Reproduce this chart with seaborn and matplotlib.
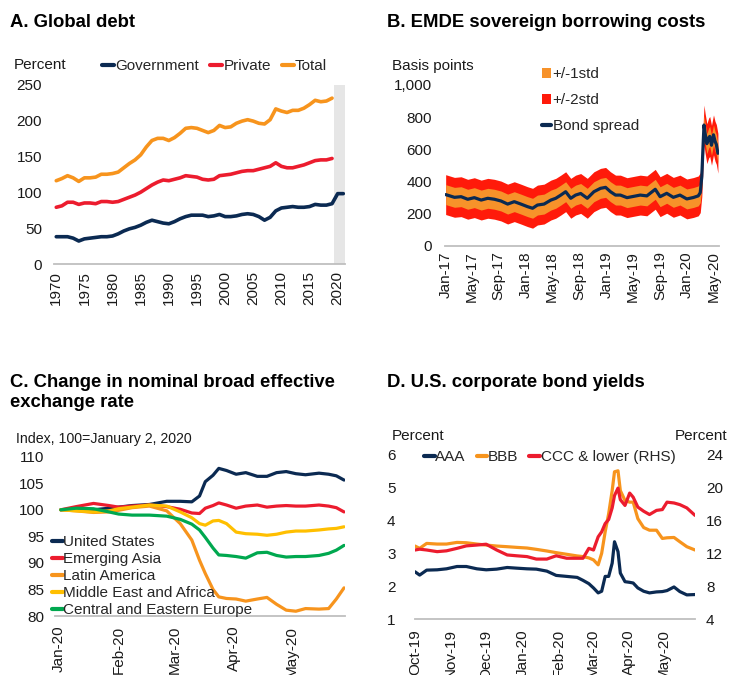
import matplotlib
matplotlib.use("Agg")
import matplotlib.pyplot as plt
import matplotlib.dates as mdates
from matplotlib.lines import Line2D
from matplotlib.patches import Patch
from matplotlib.ticker import FuncFormatter
import numpy as np
import pandas as pd
import seaborn as sns

sns.set_theme(style="white")
plt.rcParams["font.family"] = ["Liberation Sans", "DejaVu Sans"]

# ---------------- Panel A: global debt, percent of GDP ----------------
years_hist = list(range(1970, 2020))
years_gov = list(range(1970, 2022))
gov_debt = [38, 38, 38, 36, 32, 35, 36, 37, 38, 38,
            39, 42, 46, 49, 51, 54, 58, 61, 59, 57,
            56, 59, 63, 66, 68, 68, 68, 66, 67, 69,
            66, 66, 67, 69, 70, 69, 66, 61, 65, 74,
            78, 79, 80, 79, 79, 80, 83, 82, 82, 84,
            98, 98]
private_debt = [79, 81, 86, 86, 83, 85, 85, 84, 87, 87,
                86, 87, 90, 93, 96, 100, 105, 110, 114, 117,
                116, 118, 120, 123, 122, 121, 118, 117, 118, 123,
                124, 125, 127, 129, 130, 130, 132, 134, 136, 141,
                136, 134, 134, 136, 138, 141, 144, 145, 145, 147]
total_debt = [116, 119, 123, 120, 115, 120, 120, 121, 125, 125,
              126, 128, 134, 140, 145, 152, 163, 172, 175, 175,
              172, 176, 182, 189, 190, 189, 186, 183, 186, 193,
              190, 191, 196, 199, 201, 199, 196, 195, 201, 216,
              213, 211, 214, 214, 217, 222, 228, 226, 227, 231]
year_ticks = list(range(1970, 2021, 5))

# ---------------- Panel B: EMDE sovereign bond spread, basis points ----------------
spread_dates = ["2017-01-03", "2017-02-12", "2017-03-14", "2017-04-13", "2017-05-13",
                "2017-06-13", "2017-07-13", "2017-08-12", "2017-09-11", "2017-10-11",
                "2017-11-10", "2017-12-10", "2018-01-09", "2018-02-01", "2018-02-23",
                "2018-03-25", "2018-04-25", "2018-05-17", "2018-06-09", "2018-07-01",
                "2018-07-24", "2018-08-15", "2018-09-07", "2018-10-07", "2018-11-06",
                "2018-12-06", "2018-12-29", "2019-01-20", "2019-02-12", "2019-03-06",
                "2019-04-05", "2019-05-05", "2019-06-04", "2019-07-04", "2019-08-11",
                "2019-09-02", "2019-10-02", "2019-11-01", "2019-12-01", "2020-01-01",
                "2020-01-31", "2020-02-22", "2020-03-02", "2020-03-09", "2020-03-14",
                "2020-03-19", "2020-03-24", "2020-04-01", "2020-04-09", "2020-04-14",
                "2020-04-22", "2020-05-01", "2020-05-08", "2020-05-14", "2020-05-21"]
bond_spread = [318, 301, 305, 289, 299,
               284, 295, 289, 278, 259,
               274, 259, 243, 233, 253,
               259, 284, 295, 315, 336,
               295, 315, 325, 295, 336,
               357, 363, 336, 315, 315,
               299, 307, 315, 310, 351,
               305, 326, 301, 315, 291,
               300, 310, 330, 430, 596,
               751, 700, 635, 670, 680,
               625, 690, 650, 630, 575]
spread_std = 62

# ---------------- Panel C: nominal broad effective exchange rates ----------------
neer_dates = ["2020-01-02", "2020-01-10", "2020-01-19", "2020-01-27", "2020-02-01",
              "2020-02-08", "2020-02-17", "2020-02-26", "2020-03-04", "2020-03-10",
              "2020-03-14", "2020-03-17", "2020-03-21", "2020-03-24", "2020-03-28",
              "2020-04-02", "2020-04-07", "2020-04-13", "2020-04-18", "2020-04-23",
              "2020-04-28", "2020-05-03", "2020-05-08", "2020-05-15", "2020-05-20",
              "2020-05-24", "2020-05-28"]
neer_us = [100.0, 100.0, 100.0, 100.3, 100.5, 100.8, 101.0, 101.6, 101.6, 101.5,
           102.6, 105.3, 106.5, 107.8, 107.4, 106.7, 107.0, 106.3, 106.3, 107.0,
           107.2, 106.8, 106.6, 106.9, 106.7, 106.4, 105.6]
neer_asia = [100.0, 100.6, 101.2, 100.8, 100.5, 100.7, 100.9, 100.6, 100.1, 99.4,
             99.3, 100.3, 100.8, 101.3, 100.9, 100.3, 100.7, 100.9, 100.5, 100.7,
             100.8, 100.7, 100.7, 100.9, 100.7, 100.4, 99.6]
neer_latam = [100.0, 99.8, 99.5, 99.6, 99.9, 100.4, 100.7, 99.8, 97.4, 94.3,
              90.5, 88.0, 85.0, 83.6, 83.3, 83.2, 82.8, 83.2, 83.5, 82.2,
              81.1, 80.9, 81.4, 81.3, 81.4, 83.2, 85.3]
neer_mea = [100.0, 99.8, 99.6, 99.8, 100.2, 100.5, 100.9, 100.7, 99.6, 98.5,
            97.4, 97.1, 97.9, 98.0, 97.4, 95.8, 95.5, 95.4, 95.2, 95.4,
            95.8, 96.0, 96.0, 96.2, 96.4, 96.5, 96.8]
neer_cee = [100.0, 100.3, 100.2, 99.6, 99.2, 99.0, 99.0, 98.8, 98.2, 97.3,
            96.2, 94.8, 92.8, 91.5, 91.4, 91.2, 90.9, 91.9, 92.0, 91.4,
            91.1, 91.2, 91.2, 91.4, 91.8, 92.4, 93.3]

# ---------------- Panel D: U.S. corporate bond yields, percent ----------------
yield_dates = ["2019-10-01", "2019-10-05", "2019-10-11", "2019-10-20", "2019-10-28",
               "2019-11-06", "2019-11-14", "2019-11-23", "2019-12-01", "2019-12-10",
               "2019-12-19", "2019-12-27", "2020-01-05", "2020-01-13", "2020-01-22",
               "2020-01-30", "2020-02-08", "2020-02-17", "2020-02-22", "2020-02-27",
               "2020-03-02", "2020-03-06", "2020-03-09", "2020-03-12", "2020-03-15",
               "2020-03-18", "2020-03-20", "2020-03-23", "2020-03-25", "2020-03-29",
               "2020-04-02", "2020-04-05", "2020-04-09", "2020-04-14", "2020-04-19",
               "2020-04-25", "2020-04-30", "2020-05-04", "2020-05-10", "2020-05-15",
               "2020-05-21", "2020-05-28"]
yield_aaa = [2.44, 2.34, 2.49, 2.50, 2.53, 2.60, 2.60, 2.53, 2.50, 2.52,
             2.57, 2.55, 2.53, 2.52, 2.46, 2.33, 2.30, 2.27, 2.18, 2.08,
             1.95, 1.80, 1.85, 2.30, 2.30, 2.70, 3.35, 3.05, 2.40, 2.14,
             2.12, 2.10, 1.95, 1.85, 1.80, 1.83, 1.84, 1.87, 1.98, 1.84,
             1.74, 1.75]
yield_bbb = [3.22, 3.15, 3.30, 3.28, 3.28, 3.33, 3.32, 3.28, 3.25, 3.22,
             3.20, 3.18, 3.16, 3.12, 3.07, 3.02, 2.97, 2.92, 2.90, 2.86,
             2.80, 2.65, 3.00, 3.65, 4.20, 4.90, 5.47, 5.50, 4.90, 4.60,
             4.55, 4.55, 4.05, 3.78, 3.70, 3.70, 3.45, 3.47, 3.48, 3.35,
             3.20, 3.10]
yield_ccc = [12.4, 12.5, 12.4, 12.2, 12.3, 12.6, 12.9, 13.0, 13.1, 12.4,
             11.8, 11.7, 11.6, 11.3, 11.3, 11.7, 11.4, 11.4, 11.4, 12.6,
             12.4, 14.0, 14.6, 15.6, 16.1, 17.5, 19.0, 19.9, 18.5, 17.8,
             19.3, 18.8, 17.6, 17.1, 16.7, 17.2, 17.3, 18.2, 18.1, 17.9,
             17.5, 16.6]

# ---------------- styling ----------------
NAVY = "#0b2a52"
RED = "#ec1c2e"
ORANGE = "#f7941d"
BAND1 = "#f7922a"
BAND2 = "#ff1a0a"
GOLD = "#ffbf00"
GREEN = "#00a84f"
SPINE = "#bfbfbf"
SHADE = "#e6e6e6"
TEXT = "#1a1a1a"
TICK_FS = 11
TITLE_FS = 13.3
LW = 2.3

W, H = 729, 675
fig = plt.figure(figsize=(W / 100, H / 100), dpi=100)


def box(left, top, right, bottom):
    return [left / W, 1 - bottom / H, (right - left) / W, (bottom - top) / H]


def fig_text(x, y, s, **kw):
    kw.setdefault("fontsize", TICK_FS)
    kw.setdefault("color", TEXT)
    fig.text(x / W, 1 - y / H, s, va="baseline", ha="left", **kw)


def style_axis(ax, xpad, ypad):
    for side in ("top", "right", "left"):
        ax.spines[side].set_visible(False)
    ax.spines["bottom"].set_color(SPINE)
    ax.spines["bottom"].set_linewidth(1.3)
    ax.tick_params(axis="both", length=0, labelsize=TICK_FS, colors=TEXT)
    ax.tick_params(axis="x", pad=xpad, labelrotation=90)
    ax.tick_params(axis="y", pad=ypad)
    ax.set_xlabel("")
    ax.set_ylabel("")
    ax.grid(False)
    leg = ax.get_legend()
    if leg is not None:
        leg.remove()


def place_legend(ax, handles, labels, x, y, loc, **kw):
    ax.legend(handles, labels, loc=loc, bbox_to_anchor=(x / W, 1 - y / H),
              bbox_transform=fig.transFigure, frameon=False, fontsize=TICK_FS,
              borderpad=0, borderaxespad=0, **kw)


# ---- A ----
axA = fig.add_axes(box(54, 84.5, 345, 264))
axA.axvspan(2019.4, 2021.3, color=SHADE, lw=0, zorder=0)
sns.lineplot(x=years_gov, y=gov_debt, ax=axA, color=NAVY, lw=LW + 0.3)
sns.lineplot(x=years_hist, y=private_debt, ax=axA, color=RED, lw=LW + 0.3)
sns.lineplot(x=years_hist, y=total_debt, ax=axA, color=ORANGE, lw=LW + 0.3)
axA.set_xlim(1969.6, 2021.3)
axA.set_ylim(0, 250)
axA.set_xticks(year_ticks)
axA.set_yticks(range(0, 251, 50))
style_axis(axA, xpad=5, ypad=8.5)
fig_text(10, 27, "A. Global debt", fontsize=TITLE_FS, fontweight="bold", color="black")
fig_text(14, 69, "Percent")
place_legend(axA, [Line2D([], [], color=c, lw=3) for c in (NAVY, RED, ORANGE)],
             ["Government", "Private", "Total"], 102, 66.5, "center left",
             ncol=3, handlelength=0.8, handletextpad=0.08, columnspacing=0.7)

# ---- B ----
axB = fig.add_axes(box(445, 85, 719, 245.7))
b_x = pd.to_datetime(spread_dates)
b_y = np.array(bond_spread, dtype=float)
axB.fill_between(b_x, b_y - 2 * spread_std, b_y + 2 * spread_std, color=BAND2, lw=0, zorder=1)
axB.fill_between(b_x, b_y - spread_std, b_y + spread_std, color=BAND1, lw=0, zorder=2)
sns.lineplot(x=b_x, y=b_y, ax=axB, color=NAVY, lw=2.3, zorder=3)
axB.set_xlim(pd.Timestamp("2016-12-31"), pd.Timestamp("2020-05-26"))
axB.set_ylim(0, 1000)
axB.set_yticks(range(0, 1001, 200))
axB.yaxis.set_major_formatter(FuncFormatter(lambda v, p: f"{v:,.0f}"))
axB.xaxis.set_major_locator(mdates.MonthLocator(bymonth=[1, 5, 9]))
axB.xaxis.set_major_formatter(mdates.DateFormatter("%b-%y"))
style_axis(axB, xpad=4, ypad=9.5)
fig_text(387, 27, "B. EMDE sovereign borrowing costs", fontsize=TITLE_FS, fontweight="bold", color="black")
fig_text(392, 70, "Basis points")
place_legend(axB, [Patch(facecolor=BAND1, edgecolor="none"), Patch(facecolor=BAND2, edgecolor="none"),
                   Line2D([], [], color=NAVY, lw=3)],
             ["+/-1std", "+/-2std", "Bond spread"], 542, 67.5, "upper left",
             handlelength=0.6, handleheight=0.6, handletextpad=0.1, labelspacing=0.78)

# ---- C ----
axC = fig.add_axes(box(55, 456.7, 345, 616))
c_x = pd.to_datetime(neer_dates)
c_series = [("United States", neer_us, NAVY), ("Emerging Asia", neer_asia, RED),
            ("Latin America", neer_latam, ORANGE), ("Middle East and Africa", neer_mea, GOLD),
            ("Central and Eastern Europe", neer_cee, GREEN)]
for name, vals, col in c_series:
    sns.lineplot(x=c_x, y=vals, ax=axC, color=col, lw=LW)
axC.set_xlim(pd.Timestamp("2019-12-30"), pd.Timestamp("2020-05-28 12:00"))
axC.set_ylim(80, 110)
axC.set_yticks(range(80, 111, 5))
axC.xaxis.set_major_locator(mdates.MonthLocator())
axC.xaxis.set_major_formatter(mdates.DateFormatter("%b-%y"))
style_axis(axC, xpad=7, ypad=8)
fig_text(10, 387, "C. Change in nominal broad effective", fontsize=TITLE_FS, fontweight="bold", color="black")
fig_text(10, 407, "exchange rate", fontsize=TITLE_FS, fontweight="bold", color="black")
fig_text(16, 443, "Index, 100=January 2, 2020", fontsize=10.2)
place_legend(axC, [Line2D([], [], color=c, lw=3) for _, _, c in c_series],
             [n for n, _, _ in c_series], 52, 535, "upper left",
             handlelength=0.7, handletextpad=0.05, labelspacing=0.2)

# ---- D ----
axD = fig.add_axes(box(415, 454.3, 695, 619.3))
d_x = pd.to_datetime(yield_dates)
sns.lineplot(x=d_x, y=yield_aaa, ax=axD, color=NAVY, lw=LW)
sns.lineplot(x=d_x, y=yield_bbb, ax=axD, color=ORANGE, lw=LW)
axD2 = axD.twinx()
sns.lineplot(x=d_x, y=yield_ccc, ax=axD2, color=RED, lw=LW)
axD.set_xlim(pd.Timestamp("2019-10-01"), pd.Timestamp("2020-05-28"))
axD.set_ylim(1, 6)
axD2.set_ylim(4, 24)
axD.set_yticks(range(1, 7))
axD2.set_yticks(range(4, 25, 4))
axD.xaxis.set_major_locator(mdates.MonthLocator())
axD.xaxis.set_major_formatter(mdates.DateFormatter("%b-%y"))
style_axis(axD, xpad=7, ypad=14)
style_axis(axD2, xpad=7, ypad=8)
axD2.spines["bottom"].set_visible(False)
fig_text(387, 387, "D. U.S. corporate bond yields", fontsize=TITLE_FS, fontweight="bold", color="black")
fig_text(392, 440, "Percent")
fig_text(675, 440, "Percent")
place_legend(axD2, [Line2D([], [], color=c, lw=3) for c in (NAVY, ORANGE, RED)],
             ["AAA", "BBB", "CCC & lower (RHS)"], 424, 457, "center left",
             ncol=3, handlelength=0.7, handletextpad=0.05, columnspacing=0.7)

fig.savefig("out.png", dpi=100, facecolor="white")
